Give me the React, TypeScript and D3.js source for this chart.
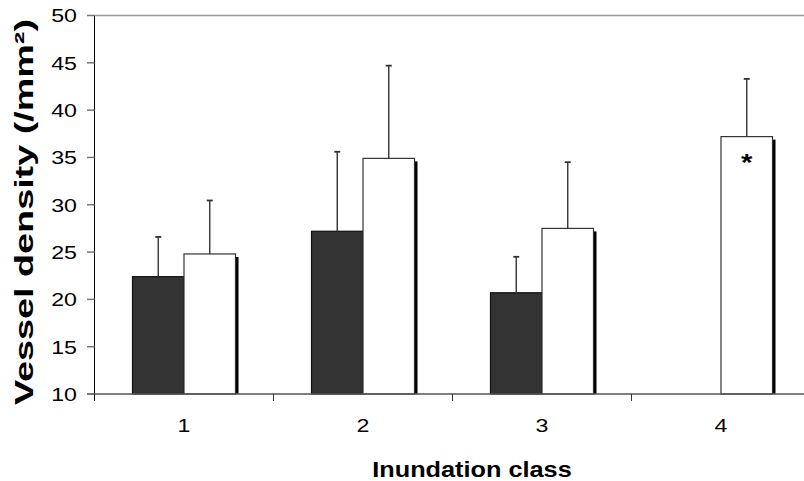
import React from "react";
import * as d3 from "d3";

const categories = ["1", "2", "3", "4"];
const seriesKeys = ["dark", "white"];
const darkMeans: (number | null)[] = [22.4, 27.2, 20.7, null];
const darkErrTops: (number | null)[] = [26.6, 35.6, 24.5, null];
const whiteMeans: (number | null)[] = [24.8, 34.9, 27.5, 37.2];
const whiteErrTops: (number | null)[] = [30.45, 44.7, 34.5, 43.3];
const yTicks = [10, 15, 20, 25, 30, 35, 40, 45, 50];
const starCategory = "4";

const W = 804;
const H = 481;

export default function App() {
  const x = d3.scaleBand<string>().domain(categories).range([94.5, 810.5]).paddingInner(0).paddingOuter(0);
  const xs = d3
    .scaleBand<string>()
    .domain(seriesKeys)
    .range([0, x.bandwidth()])
    .paddingInner(0)
    .paddingOuter(38 / 51.5);
  const y = d3.scaleLinear().domain([10, 50]).range([394, 15.5]);
  const y0 = y(10);
  const font = "Liberation Sans, Arial, Helvetica, sans-serif";
  const sx = 1.22;

  const series = [
    { key: "dark", means: darkMeans, errs: darkErrTops, fill: "#333333", stroke: "#111111" },
    { key: "white", means: whiteMeans, errs: whiteErrTops, fill: "#ffffff", stroke: "#333333" },
  ];

  return (
    <svg
      width={W}
      height={H}
      style={{ position: "absolute", left: 0, top: 0, background: "#fff" }}
      fontFamily={font}
    >
      {/* top gray line */}
      <line x1={94.5} x2={W} y1={y(50)} y2={y(50)} stroke="#999" strokeWidth={1.5} />

      {/* bars */}
      {series.map((s) =>
        categories.map((c, i) => {
          const v = s.means[i];
          if (v == null) return null;
          const bx = (x(c) as number) + (xs(s.key) as number);
          const bw = xs.bandwidth();
          const top = y(v);
          return (
            <g key={s.key + c}>
              {s.key === "white" && (
                <rect x={bx + bw} y={top + 3} width={3} height={y0 - top - 3} fill="#000" />
              )}
              <rect
                x={bx}
                y={top}
                width={bw}
                height={y0 - top}
                fill={s.fill}
                stroke={s.stroke}
                strokeWidth={1.2}
              />
            </g>
          );
        })
      )}

      {/* error bars */}
      {series.map((s) =>
        categories.map((c, i) => {
          const v = s.means[i];
          const e = s.errs[i];
          if (v == null || e == null) return null;
          const cx = (x(c) as number) + (xs(s.key) as number) + xs.bandwidth() / 2;
          return (
            <g key={"e" + s.key + c} stroke="#333" strokeWidth={1.4}>
              <line x1={cx} x2={cx} y1={y(v)} y2={y(e)} />
              <line x1={cx - 3} x2={cx + 3} y1={y(e)} y2={y(e)} strokeWidth={1.8} />
            </g>
          );
        })
      )}

      {/* star */}
      <text
        transform={`translate(${(x(starCategory) as number) + (xs("white") as number) + xs.bandwidth() / 2},${
          y(whiteMeans[3] as number) + 34
        }) scale(${sx},1)`}
        textAnchor="middle"
        fontSize={24}
        fontWeight="bold"
      >
        *
      </text>

      {/* x axis */}
      <line x1={87} x2={W} y1={y0} y2={y0} stroke="#555" strokeWidth={1.5} />
      {categories.slice(1).map((c) => (
        <line key={"xt" + c} x1={x(c) as number} x2={x(c) as number} y1={y0} y2={y0 + 7} stroke="#333" strokeWidth={1} />
      ))}
      {categories.map((c) => (
        <text
          key={"xl" + c}
          transform={`translate(${(x(c) as number) + x.bandwidth() / 2},432) scale(${sx},1)`}
          textAnchor="middle"
          fontSize={19}
          fill="#000"
        >
          {c}
        </text>
      ))}

      {/* y axis */}
      <line x1={94.5} x2={94.5} y1={y(50)} y2={y0 + 7} stroke="#000" strokeWidth={1} />
      {yTicks.map((t) => (
        <g key={"yt" + t}>
          <line x1={87} x2={94.5} y1={y(t)} y2={y(t)} stroke="#777" strokeWidth={1.5} />
          <text
            transform={`translate(77,${y(t)}) scale(${sx},1)`}
            dy="0.36em"
            textAnchor="end"
            fontSize={19}
            fill="#000"
          >
            {t}
          </text>
        </g>
      ))}

      {/* titles */}
      <text
        transform={`translate(472,477) scale(1.15,1)`}
        textAnchor="middle"
        fontSize={22}
        fontWeight="bold"
      >
        Inundation class
      </text>
      <text
        transform={`translate(33,212) rotate(-90)`}
        textAnchor="middle"
        fontSize={26}
        fontWeight="bold"
        textLength={386}
        lengthAdjust="spacingAndGlyphs"
      >
        Vessel density (/mm²)
      </text>
    </svg>
  );
}
